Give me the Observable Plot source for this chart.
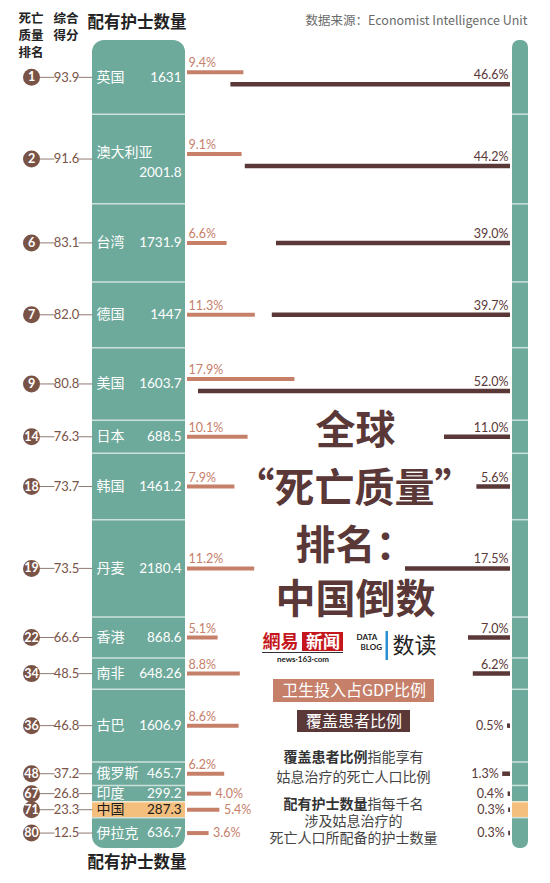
<!DOCTYPE html>
<html>
<head>
<meta charset="utf-8">
<script src="https://cdn.jsdelivr.net/npm/d3@7"></script>
<script src="https://cdn.jsdelivr.net/npm/@observablehq/plot@0.6"></script>
<style>
  body { margin: 0; background: white; }
  #chart svg { display: block; }
</style>
</head>
<body>
<div id="chart"></div>
<script>
// 数据
const names = ["英国","澳大利亚","台湾","德国","美国","日本","韩国","丹麦","香港","南非","古巴","俄罗斯","印度","中国","伊拉克"]
const ranks = [1,2,6,7,9,14,18,19,22,34,36,48,67,71,80]
const scores = [93.9,91.6,83.1,82.0,80.8,76.3,73.7,73.5,66.6,48.5,46.8,37.2,26.8,23.3,12.5]
const nurses = [1631,2001.8,1731.9,1447,1603.7,688.5,1461.2,2180.4,868.6,648.26,1606.9,465.7,299.2,287.3,636.7]
const gdpShare = [9.4,9.1,6.6,11.3,17.9,10.1,7.9,11.2,5.1,8.8,8.6,6.2,4.0,5.4,3.6]
const coverage = [46.6,44.2,39.0,39.7,52.0,11.0,5.6,17.5,7.0,6.2,0.5,1.3,0.4,0.3,0.3]

const W = 550, H = 883
const teal = "#6eaa9b", salmon = "#c6806a", dark = "#5a3838", brown = "#7a5347", chinaFill = "#f4be7d", lineGray = "#8f7a73"

// x: 百分比单位, 6px 一个百分点, 0 在橙色条起点
const X0 = 187, PPX = 6
const xp = px => (px - X0) / PPX
// y: 护士数量堆叠, 每段再加一点间隔
const GAP = 80
let acc = 0
const rows = names.map((name, i) => {
  const y1 = acc
  acc += nurses[i] + GAP
  return {name, rank: ranks[i], score: scores[i], nurses: nurses[i], gdp: gdpShare[i], cov: coverage[i], y1, y2: acc, ym: (y1 + acc) / 2}
})
const total = acc
const Y0 = 40, Y1 = 848
const yp = py => (py - Y0) / (Y1 - Y0) * total
const unitPerPx = total / (Y1 - Y0)
const covEnd = xp(510)

rows.forEach(d => {
  const split = d.gdp + 2 > covEnd - d.cov
  d.yGdp = split ? d.ym - 5 * unitPerPx : d.ym
  d.yCov = split ? d.ym + 7 * unitPerPx : d.ym
})
const gdpInline = new Set(["印度","中国","伊拉克"])
const pct = v => d3.format(".1f")(v) + "%"
const isChina = d => d.name === "中国"
const stacked = d => d.name.length > 3

const cjk = "'Noto Sans CJK SC', sans-serif"
const num = "Lato, 'Noto Sans CJK SC', sans-serif"

// 固定位置的文字
const label = (text, px, py, o = {}) => Plot.text([text], {x: () => xp(px), y: () => yp(py), text: d => d, fontFamily: cjk, ...o})
const box = (x1, x2, y1, y2, fill, o = {}) => Plot.rect([0], {x1: () => xp(x1), x2: () => xp(x2), y1: () => yp(y1), y2: () => yp(y2), fill, ...o})

const chart = Plot.plot({
  width: W,
  height: H,
  margin: 0,
  x: {domain: [xp(0), xp(W)], range: [0, W], axis: null},
  y: {domain: [yp(0), yp(H)], range: [0, H], axis: null},
  style: {fontFamily: cjk, background: "white"},
  marks: [
    // 左侧护士数量柱
    Plot.rect([0], {x1: () => xp(92), x2: () => xp(185), y1: () => 0, y2: () => total, fill: teal, rx: 12}),
    Plot.rect(rows.filter(isChina), {x1: () => xp(92), x2: () => xp(185), y1: "y1", y2: "y2", fill: chinaFill}),
    Plot.ruleY(rows.slice(1), {y: "y1", x1: () => xp(92), x2: () => xp(185), stroke: "white", strokeOpacity: 0.65, strokeWidth: 1.5}),
    // 右侧窄柱
    Plot.rect([0], {x1: () => xp(512), x2: () => xp(528), y1: () => 0, y2: () => total, fill: teal, rx: 7}),
    Plot.rect(rows.filter(isChina), {x1: () => xp(512), x2: () => xp(528), y1: "y1", y2: "y2", fill: chinaFill}),
    Plot.ruleY(rows.slice(1), {y: "y1", x1: () => xp(512), x2: () => xp(528), stroke: "white", strokeOpacity: 0.65, strokeWidth: 1.5}),

    // 排名 - 得分 连线
    Plot.link(rows, {x1: () => xp(39), x2: () => xp(54), y1: "ym", y2: "ym", stroke: lineGray, strokeWidth: 1}),
    Plot.link(rows, {x1: () => xp(78), x2: () => xp(92), y1: "ym", y2: "ym", stroke: lineGray, strokeWidth: 1}),
    Plot.dot(rows, {x: () => xp(31), y: "ym", r: 8.5, fill: brown, stroke: "none"}),
    Plot.text(rows, {x: () => xp(31), y: "ym", text: d => String(d.rank), fill: "white", fontSize: 12.5, fontWeight: "bold", fontFamily: num, letterSpacing: -0.5}),
    Plot.text(rows, {x: () => xp(66), y: "ym", text: d => d3.format(".1f")(d.score), fill: brown, fontSize: 13, fontFamily: num, letterSpacing: -0.7}),

    // 国家名与护士数量
    Plot.text(rows.filter(d => !stacked(d)), {x: () => xp(96), y: "ym", text: "name", textAnchor: "start", fill: d => isChina(d) ? "#1d1d1d" : "white", fontWeight: d => isChina(d) ? "bold" : "normal", fontSize: 14}),
    Plot.text(rows.filter(d => !stacked(d)), {x: () => xp(181), y: "ym", text: d => String(d.nurses), textAnchor: "end", fill: d => isChina(d) ? "#1d1d1d" : "white", fontSize: 13.5, fontFamily: num, letterSpacing: -0.3}),
    Plot.text(rows.filter(stacked), {x: () => xp(96), y: "ym", dy: -7, text: "name", textAnchor: "start", fill: "white", fontSize: 14}),
    Plot.text(rows.filter(stacked), {x: () => xp(181), y: "ym", dy: 14, text: d => String(d.nurses), textAnchor: "end", fill: "white", fontSize: 13.5, fontFamily: num, letterSpacing: -0.3}),

    // 卫生投入占GDP比例
    Plot.ruleY(rows, {y: "yGdp", x1: () => 0, x2: "gdp", stroke: salmon, strokeWidth: 4}),
    Plot.text(rows.filter(d => !gdpInline.has(d.name)), {x: () => 0, y: "yGdp", dx: 1, dy: -9, text: d => pct(d.gdp), textAnchor: "start", fill: salmon, fontSize: 12.5, fontFamily: num}),
    Plot.text(rows.filter(d => gdpInline.has(d.name)), {x: "gdp", y: "yGdp", dx: 4, text: d => pct(d.gdp), textAnchor: "start", fill: salmon, fontSize: 12.5, fontFamily: num}),

    // 覆盖患者比例
    Plot.ruleY(rows, {y: "yCov", x1: d => covEnd - d.cov, x2: () => covEnd, stroke: dark, strokeWidth: 4.5}),
    Plot.text(rows.filter(d => d.cov >= 2), {x: () => covEnd, y: "yCov", dx: -2, dy: -9, text: d => pct(d.cov), textAnchor: "end", fill: dark, fontSize: 12.5, fontFamily: num}),
    Plot.text(rows.filter(d => d.cov < 2), {x: d => covEnd - d.cov, y: "yCov", dx: -4, text: d => pct(d.cov), textAnchor: "end", fill: dark, fontSize: 12.5, fontFamily: num}),

    // 表头
    label("死亡", 18, 18.5, {textAnchor: "start", fontWeight: "bold", fontSize: 12.5, fill: "#222"}),
    label("质量", 18, 35, {textAnchor: "start", fontWeight: "bold", fontSize: 12.5, fill: "#222"}),
    label("排名", 18, 52, {textAnchor: "start", fontWeight: "bold", fontSize: 12.5, fill: "#222"}),
    label("综合", 53, 18.5, {textAnchor: "start", fontWeight: "bold", fontSize: 12.5, fill: "#222"}),
    label("得分", 53, 35, {textAnchor: "start", fontWeight: "bold", fontSize: 12.5, fill: "#222"}),
    label("配有护士数量", 87, 22, {textAnchor: "start", fontWeight: "bold", fontSize: 16.5, fill: "#222"}),
    label("配有护士数量", 87, 862, {textAnchor: "start", fontWeight: "bold", fontSize: 16.5, fill: "#222"}),
    label("数据来源：Economist Intelligence Unit", 527, 20, {textAnchor: "end", fontSize: 12.5, fill: "#6b6b6b"}),

    // 大标题
    label("全球", 355, 431, {fontSize: 40, fontWeight: "bold", fill: dark}),
    label("“死亡质量”", 354, 489, {fontSize: 40, fontWeight: "bold", fill: dark}),
    label("排名：", 355, 546, {fontSize: 40, fontWeight: "bold", fill: dark}),
    label("中国倒数", 355, 600, {fontSize: 40, fontWeight: "bold", fill: dark}),

    // 网易新闻 / 数读
    label("網易", 262, 642, {textAnchor: "start", fontSize: 18, fontWeight: "bold", fill: "#c4161c"}),
    box(302, 343, 632, 651, "#c4161c"),
    label("新闻", 322.5, 642, {fontSize: 17, fontWeight: "bold", fill: "white"}),
    box(262, 343, 652, 653, "#333"),
    label("news·163·com", 302.5, 659, {fontSize: 8, fontWeight: "bold", fill: "#222", letterSpacing: 1.2, fontFamily: num}),
    label("DATA", 356, 637, {textAnchor: "start", fontSize: 8, fontWeight: "bold", fill: "#222", fontFamily: num}),
    label("BLOG", 360, 647, {textAnchor: "start", fontSize: 8, fontWeight: "bold", fill: "#222", fontFamily: num}),
    box(385.5, 388, 631, 660, "#2b8fd2"),
    label("数读", 392, 645, {textAnchor: "start", fontSize: 22, fill: "#222"}),

    // 图例
    box(273, 434, 679, 702, salmon),
    label("卫生投入占GDP比例", 353.5, 690.5, {fontSize: 16, fill: "white"}),
    box(297, 410, 710, 732, dark),
    label("覆盖患者比例", 353.5, 721, {fontSize: 16, fill: "white"}),

    // 说明
    label("覆盖患者比例", 367, 757, {textAnchor: "end", fontSize: 14, fontWeight: "bold", fill: "#333"}),
    label("指能享有", 367, 757, {textAnchor: "start", fontSize: 14, fill: "#444"}),
    label("姑息治疗的死亡人口比例", 353, 777, {fontSize: 14, fill: "#444"}),
    label("配有护士数量", 367, 804, {textAnchor: "end", fontSize: 14, fontWeight: "bold", fill: "#333"}),
    label("指每千名", 367, 804, {textAnchor: "start", fontSize: 14, fill: "#444"}),
    label("涉及姑息治疗的", 353, 821, {fontSize: 14, fill: "#444"}),
    label("死亡人口所配备的护士数量", 353, 838, {fontSize: 14, fill: "#444"})
  ]
})

d3.select("#chart").append(() => chart)
</script>
</body>
</html>
